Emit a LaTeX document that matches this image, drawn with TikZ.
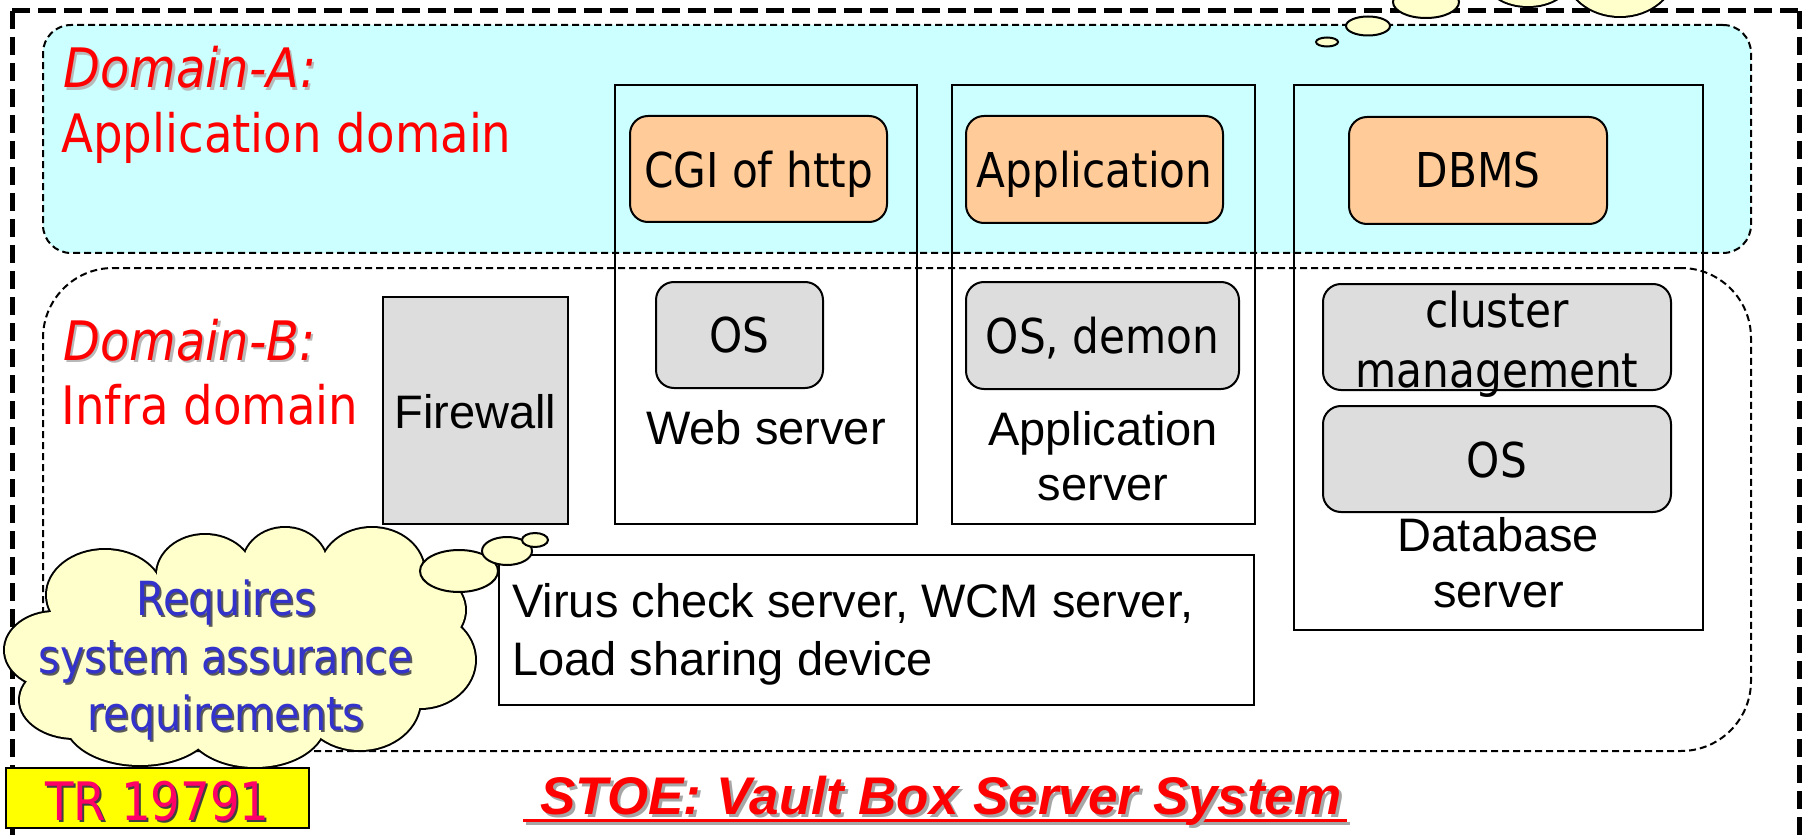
\documentclass[tikz,border=0pt]{standalone}
\usepackage{fontspec}
\setmainfont{Liberation Sans}
\newfontfamily\tah[FakeStretch=0.88]{DejaVu Sans}
\usetikzlibrary{fit}

\definecolor{domcyan}{HTML}{CCFFFF}
\definecolor{apporange}{HTML}{FFCC99}
\definecolor{osgray}{HTML}{DDDDDD}
\definecolor{cloudfill}{HTML}{FFFFCC}
\definecolor{noteblue}{HTML}{3333CC}
\definecolor{tagpink}{HTML}{FF0066}
\definecolor{tagyellow}{HTML}{FFFF00}

\tikzset{
  box/.style={inner sep=0pt, outer sep=0pt},
  frameline/.style={draw=black, line width=2.5pt, dash pattern=on 9pt off 4pt},
  domdash/.style={draw=black, line width=1pt, dash pattern=on 3.5pt off 2pt},
  serverbox/.style={box, draw=black, line width=1.3pt},
  swbox/.style={box, draw=black, line width=1pt, rounded corners=9pt, fill=apporange},
  osbox/.style={box, draw=black, line width=1pt, rounded corners=9pt, fill=osgray},
  tahtext/.style={inner sep=0pt, anchor=base, font=\tah\fontsize{24pt}{29pt}\selectfont},
  arialtext/.style={inner sep=0pt, anchor=base, font=\fontsize{23.5pt}{28pt}\selectfont},
  domlabel/.style={inner sep=0pt, anchor=base west, text=red, font=\tah\fontsize{26.5pt}{31pt}\selectfont},
  domtitle/.style={domlabel, font=\tah\itshape\fontsize{27.2pt}{32pt}\selectfont},
  domshadow/.style={domtitle, text=black!28},
  puff/.style={draw=black, line width=2pt, fill=cloudfill},
  puffin/.style={fill=cloudfill},
  bubble/.style={draw=black, line width=1pt, fill=cloudfill},
  notetext/.style={inner sep=0pt, anchor=base, text=noteblue, font=\tah\fontsize{23.5pt}{28pt}\selectfont},
  noteshadow/.style={notetext, text=black!65},
}

\begin{document}
\begin{tikzpicture}[x=0.5pt, y=-0.5pt]
\useasboundingbox (0,0) rectangle (1812,840);

% outer frame of the system
\coordinate (fTL) at (12,11);
\coordinate (fTR) at (1799,11);
\coordinate (fBR) at (1799,841);
\coordinate (fBL) at (12,841);
\path[frameline] (fTL) -- (fTR);
\path[frameline] (fTR) -- (fBR);
\path[frameline] (fTL) -- (fBL);
\draw[line width=1.2pt, black!25, dash pattern=on 9pt off 4pt] (fBL) -- (fBR);

% the two domains
\node[box, fit={(43,25) (1751,253)}, fill=domcyan, domdash, rounded corners=14pt] (domA) {};
\node[box, fit={(43,268) (1751,751)}, domdash, rounded corners=35pt] (domB) {};

\node[domshadow] (domAtitleS) at (65.5,90.5) {Domain-A:};
\node[domtitle]  (domAtitle)  at (63,88)   {Domain-A:};
\node[domlabel]  (domAname)   at (61,153)  {Application domain};
\node[domshadow] (domBtitleS) at (65.5,362.5) {Domain-B:};
\node[domtitle]  (domBtitle)  at (63,360)  {Domain-B:};
\node[domlabel]  (domBname)   at (61,424)  {Infra domain};

% firewall
\node[box, fit={(383,297) (568,524)}, fill=osgray, draw=black, line width=1.3pt] (fw) {};
\node[arialtext] (fwtext) at (475.5,428) {Firewall};

% web server
\node[serverbox, fit={(615,85) (917,524)}] (web) {};
\node[swbox, fit={(630,116) (887,222)}] (cgi) {};
\node[tahtext] (cgitext) at (758.5,188) {CGI of http};
\node[osbox, fit={(656,282) (823,388)}] (webos) {};
\node[tahtext] (webostext) at (739.5,352) {OS};
\node[arialtext] (webtext) at (766,444) {Web server};

% application server
\node[serverbox, fit={(952,85) (1255,524)}] (app) {};
\node[swbox, fit={(966,116) (1223,223)}] (appsw) {};
\node[tahtext] (appswtext) at (1094.5,188) {Application};
\node[osbox, fit={(966,282) (1239,389)}] (appos) {};
\node[tahtext] (appostext) at (1102.5,353) {OS, demon};
\node[arialtext] (apptext1) at (1103,445) {Application};
\node[arialtext] (apptext2) at (1103,500) {server};

% database server
\node[serverbox, fit={(1294,85) (1703,630)}] (db) {};
\node[swbox, fit={(1349,117) (1607,224)}] (dbms) {};
\node[tahtext] (dbmstext) at (1478,188) {DBMS};
\node[osbox, fit={(1323,284) (1671,390)}] (clu) {};
\node[tahtext] (clutext1) at (1497,328) {cluster};
\node[tahtext] (clutext2) at (1497,387) {management};
\node[osbox, fit={(1323,406) (1671,512)}] (dbos) {};
\node[tahtext] (dbostext) at (1497,477) {OS};
\node[arialtext] (dbtext1) at (1498.5,551) {Database};
\node[arialtext] (dbtext2) at (1498.5,607) {server};

% further devices
\node[box, fit={(499,555) (1254,705)}, fill=white, draw=black, line width=1.3pt] (misc) {};
\node[arialtext, anchor=base west] (misctext1) at (512,617) {Virus check server, WCM server,};
\node[arialtext, anchor=base west] (misctext2) at (512,675) {Load sharing device};

% thought cloud with its requirement note
\foreach \cx/\cy/\rx/\ry in {205/575/24/20, 285/565/21/18.5, 372/572/26/22, 105/595/29/22.5,
    55/650/25/19, 75/700/27.5/19, 140/720/37.5/22.5, 255/722/35/22.5,
    360/700/30/25, 420/660/27.5/24, 415/610/25/20}
  \path[puff] (\cx,\cy) ellipse [x radius=\rx pt, y radius=\ry pt];
\foreach \cx/\cy/\rx/\ry in {205/575/24/20, 285/565/21/18.5, 372/572/26/22, 105/595/29/22.5,
    55/650/25/19, 75/700/27.5/19, 140/720/37.5/22.5, 255/722/35/22.5,
    360/700/30/25, 420/660/27.5/24, 415/610/25/20, 240/648/90/40}
  \path[puffin] (\cx,\cy) ellipse [x radius=\rx pt, y radius=\ry pt];
\path[bubble] (459,571) ellipse [x radius=19.5pt, y radius=10.5pt];
\path[bubble] (507,551) ellipse [x radius=12.5pt, y radius=7pt];
\path[bubble] (535,540) ellipse [x radius=6.5pt, y radius=3.5pt];

\node[noteshadow] (note1S) at (228,617) {Requires};
\node[notetext]   (note1)  at (226,615) {Requires};
\node[noteshadow] (note2S) at (228,675) {system assurance};
\node[notetext]   (note2)  at (226,673) {system assurance};
\node[noteshadow] (note3S) at (228,732) {requirements};
\node[notetext]   (note3)  at (226,730) {requirements};

% second cloud above the frame
\begin{scope}
\clip (0,0) rectangle (1812,840);
\foreach \cx/\cy/\rx/\ry in {1528/-20/20.5/13, 1620/-30/27.5/23}
  \path[puff] (\cx,\cy) ellipse [x radius=\rx pt, y radius=\ry pt];
\foreach \cx/\cy/\rx/\ry in {1528/-20/20.5/13, 1620/-30/27.5/23}
  \path[puffin] (\cx,\cy) ellipse [x radius=\rx pt, y radius=\ry pt];
\path[bubble] (1426,2) ellipse [x radius=16.5pt, y radius=8pt];
\end{scope}
\path[bubble] (1368,26) ellipse [x radius=11pt, y radius=4.75pt];
\path[bubble] (1327,42) ellipse [x radius=5.5pt, y radius=2.25pt];

% report tag
\node[box, fit={(6,768) (309,828)}, fill=tagyellow, draw=black, line width=1.3pt] (tag) {};
\node[inner sep=0pt, anchor=base, text=black!75, font=\tah\fontsize{26.5pt}{31pt}\selectfont] (tagtextS) at (159.5,822) {TR 19791};
\node[inner sep=0pt, anchor=base, text=tagpink, font=\tah\fontsize{26.5pt}{31pt}\selectfont] (tagtext) at (157.5,820) {TR 19791};

% title of the target of evaluation
\coordinate (ulA) at (523,820);
\coordinate (ulB) at (1347,820);
\draw[black!35, line width=1.5pt] ([shift={(3,3)}]ulA) -- ([shift={(3,3)}]ulB);
\draw[red, line width=1.5pt] (ulA) -- (ulB);
\node[inner sep=0pt, anchor=base west, text=black!35, font=\bfseries\itshape\fontsize{26.5pt}{32pt}\selectfont] (stoeS) at (543,817) {STOE: Vault Box Server System};
\node[inner sep=0pt, anchor=base west, text=red, font=\bfseries\itshape\fontsize{26.5pt}{32pt}\selectfont] (stoe) at (540,814) {STOE: Vault Box Server System};
\end{tikzpicture}
\end{document}
